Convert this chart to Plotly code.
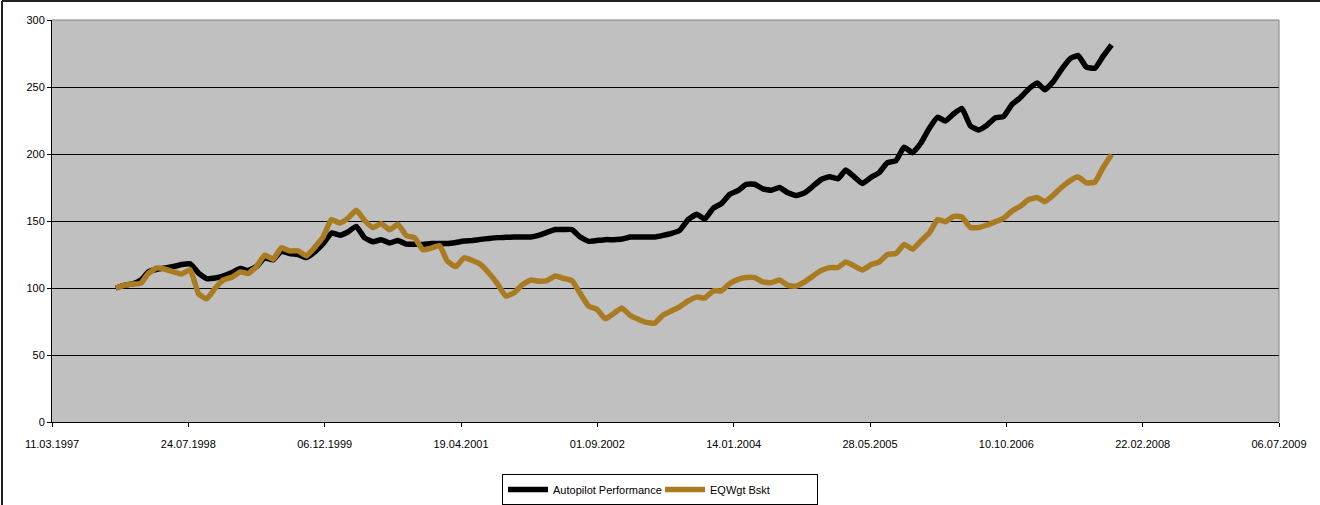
import pandas as pd
import plotly.graph_objects as go

# Monthly observations, Oct 1997 .. Oct 2007
dates = pd.date_range("1997-10-31", periods=121, freq="ME")

autopilot = [
    100, 102, 103, 106, 112, 114, 115, 116, 117.5, 118,
    111, 107, 107.5, 109, 111.5, 114.5, 113, 116, 122.5, 121,
    127.5, 125.7, 125, 122.7, 127, 133, 141, 139.4, 141.8, 146,
    137.5, 134.5, 136, 133.6, 135.5, 132.7, 132.7, 132.5, 133.2, 133.2,
    133.2, 134, 135, 135.5, 136.3, 137, 137.6, 137.8, 138, 138,
    138.1, 139.5, 141.5, 143.6, 143.6, 143.6, 138, 134.8, 135.5, 136.1,
    136.1, 136.5, 138.1, 138.1, 138.1, 138.1, 139.3, 140.8, 143, 151,
    155, 151.5, 159.5, 163, 170, 172.9, 177.4, 177.4, 174, 173,
    175, 171, 169, 171, 176, 181, 183, 181.6, 188, 183,
    178, 182.5, 186, 193.5, 195, 205, 201, 208, 219, 227.5,
    224.6, 230, 234, 221, 218, 221.5, 227, 228, 237, 242,
    248.5, 253, 248, 254, 263, 271, 273.5, 264.8, 264, 273,
    281.5,
]

eqwgt = [
    100, 102, 103, 103.5, 111, 115, 114, 112, 110.5, 113.5,
    95.5, 92, 100, 106, 108, 112, 110.8, 116, 124.5, 121.5,
    130, 127.7, 127.7, 124, 130.5, 138, 151, 148.5, 152, 158,
    150.5, 145.1, 148, 143.5, 147.5, 139.2, 137.5, 128.5, 129.8, 131.5,
    120, 116, 122.5, 120.5, 117.5, 111, 103, 94, 96.5, 102.5,
    106, 105, 105.5, 109, 107.2, 105.5, 96, 86.5, 84, 77,
    81, 85, 79.5, 76.5, 74.3, 73.8, 79.8, 83, 86, 90.3,
    93.2, 92.5, 97.9, 97.9, 103.4, 106.5, 107.8, 107.8, 104.5, 104,
    106, 102, 101.4, 104.5, 109, 113, 115.2, 115.3, 119.5, 116.5,
    113.5, 117.3, 119.3, 125, 125.7, 132.5, 129, 135, 141, 151,
    149.5, 153.5, 153, 145.1, 145.1, 147, 149.5, 152, 157.5, 161,
    166, 167.5, 164.5, 169.2, 175, 180, 182.8, 178.5, 179, 190,
    199.7,
]

series_names = ["Autopilot Performance", "EQWgt Bskt"]
series_colors = ["#000000", "#AA7C22"]

tick_dates = ["1997-03-11", "1998-07-24", "1999-12-06", "2001-04-19", "2002-09-01",
              "2004-01-14", "2005-05-28", "2006-10-10", "2008-02-22", "2009-07-06"]
tick_labels = ["11.03.1997", "24.07.1998", "06.12.1999", "19.04.2001", "01.09.2002",
               "14.01.2004", "28.05.2005", "10.10.2006", "22.02.2008", "06.07.2009"]

y_ticks = [0, 50, 100, 150, 200, 250, 300]

fig = go.Figure()
for name, vals, col in zip(series_names, [autopilot, eqwgt], series_colors):
    fig.add_trace(go.Scatter(
        x=dates, y=vals, mode="lines", name=name,
        line=dict(color=col, width=5.5, shape="spline", smoothing=0.4),
    ))

W, H = 1320, 505
L, R, T, B = 52, 41, 20, 83

fig.update_layout(
    width=W, height=H,
    margin=dict(l=L, r=R, t=T, b=B, pad=0, autoexpand=False),
    paper_bgcolor="white",
    plot_bgcolor="#C0C0C0",
    font=dict(family="Liberation Sans, Arial, sans-serif", size=11, color="black"),
    showlegend=True,
    legend=dict(
        orientation="h", x=0.5, xanchor="center", xref="container",
        y=1 - 474 / H, yanchor="top", yref="container",
        bgcolor="white", bordercolor="black", borderwidth=1,
        font=dict(size=11), itemwidth=40, entrywidth=102,
    ),
    xaxis=dict(
        type="date", range=["1997-03-11", "2009-07-06"],
        tickmode="array", tickvals=tick_dates, ticktext=tick_labels,
        ticks="outside", ticklen=4, tickcolor="black", tickwidth=1,
        ticklabelstandoff=8,
        showgrid=False, showline=True, linecolor="black", linewidth=1,
        zeroline=False, mirror=False,
    ),
    yaxis=dict(
        range=[0, 300], tickmode="array", tickvals=y_ticks,
        ticks="outside", ticklen=4, tickcolor="black", tickwidth=1,
        showgrid=True, gridcolor="black", gridwidth=1,
        showline=True, linecolor="black", linewidth=1,
        zeroline=False,
    ),
)

# plot-area top/right border (gray)
fig.add_shape(type="line", xref="paper", yref="paper", x0=0, x1=1, y0=1, y1=1,
              line=dict(color="#808080", width=1), layer="above")
fig.add_shape(type="line", xref="paper", yref="paper", x0=1, x1=1, y0=0, y1=1,
              line=dict(color="#808080", width=1), layer="above")

# outer chart border (left and top edges visible)
pw, ph = W - L - R, H - T - B
fig.add_shape(type="line", xref="paper", yref="paper",
              x0=(2 - L) / pw, x1=(2 - L) / pw, y0=(H - B - 520) / ph, y1=(H - B - 1) / ph,
              line=dict(color="#202020", width=2))
fig.add_shape(type="line", xref="paper", yref="paper",
              x0=(2 - L) / pw, x1=(1330 - L) / pw, y0=(H - B - 1) / ph, y1=(H - B - 1) / ph,
              line=dict(color="#202020", width=2))

fig.write_html("out.html")
